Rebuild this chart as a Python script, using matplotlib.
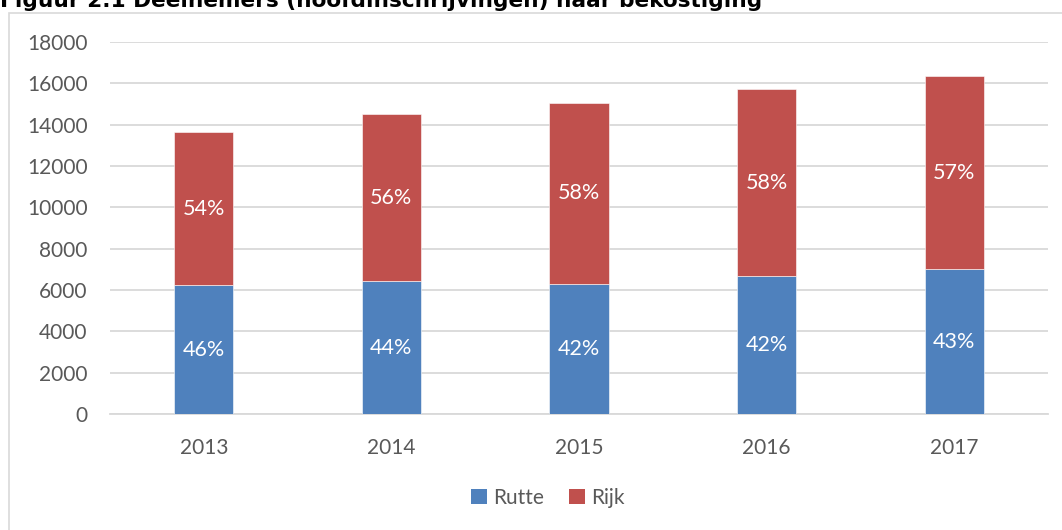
import matplotlib
matplotlib.use("Agg")
import matplotlib.pyplot as plt
from matplotlib.patches import Rectangle, Patch

years = ["2013", "2014", "2015", "2016", "2017"]
rutte = [6240, 6420, 6290, 6680, 7000]
rijk = [7400, 8090, 8760, 9030, 9370]
rutte_pct = ["46%", "44%", "42%", "42%", "43%"]
rijk_pct = ["54%", "56%", "58%", "58%", "57%"]
yticks = [0, 2000, 4000, 6000, 8000, 10000, 12000, 14000, 16000, 18000]

BLUE = "#4F81BD"
RED = "#C0504D"
GRID = "#D9D9D9"
TXT = "#595959"
FONT = "Lato"

W, H = 1062, 530
fig = plt.figure(figsize=(W / 100, H / 100), dpi=100)
fig.patch.set_facecolor("white")

# chart area border (extends beyond the right/bottom edge)
fig.patches.append(Rectangle((9 / W, -0.05), 1.1, 1 - 13 / H + 0.05,
                             transform=fig.transFigure, fill=False,
                             edgecolor=GRID, linewidth=1.2, zorder=0))

# title (clipped at the top edge as in the reference)
fig.text(0.0, 1 - 7 / H, "Figuur 2.1 Deelnemers (hoofdinschrijvingen) naar bekostiging",
         fontsize=15.6, fontweight="bold", family="DejaVu Sans",
         ha="left", va="baseline", color="black")

ax = fig.add_axes([110 / W, 1 - 414 / H, 938 / W, 372 / H])
x = list(range(len(years)))
bw = 0.315
ax.bar(x, rutte, width=bw, color=BLUE, zorder=3, edgecolor="white", linewidth=0.4)
ax.bar(x, rijk, width=bw, bottom=rutte, color=RED, zorder=3, edgecolor="white", linewidth=0.4)

for i in x:
    ax.text(i, rutte[i] / 2, rutte_pct[i], ha="center", va="center",
            color="white", fontsize=15.5, family=FONT, zorder=4)
    ax.text(i, rutte[i] + rijk[i] / 2, rijk_pct[i], ha="center", va="center",
            color="white", fontsize=15.5, family=FONT, zorder=4)

ax.set_xlim(-0.5, len(years) - 0.5)
ax.set_ylim(0, 18000)
ax.set_yticks(yticks)
ax.set_yticklabels([str(v) for v in yticks])
ax.set_xticks(x)
ax.set_xticklabels(years)
ax.yaxis.grid(True, color=GRID, linewidth=1.3, zorder=0)
ax.set_axisbelow(True)
for s in ["top", "right", "left"]:
    ax.spines[s].set_visible(False)
ax.spines["bottom"].set_color(GRID)
ax.spines["bottom"].set_linewidth(1.3)
ax.tick_params(axis="both", length=0, labelsize=15, labelcolor=TXT)
ax.tick_params(axis="y", pad=16)
ax.tick_params(axis="x", pad=17)
for lab in ax.get_xticklabels() + ax.get_yticklabels():
    lab.set_family(FONT)

handles = [Patch(facecolor=BLUE, label="Rutte"), Patch(facecolor=RED, label="Rijk")]
fig.legend(handles=handles, loc="center", bbox_to_anchor=(548 / W, 1 - 498 / H),
           ncol=2, frameon=False, prop={"family": FONT, "size": 15},
           handlelength=0.75, handleheight=0.75, handletextpad=0.3,
           columnspacing=1.2, labelcolor=TXT)

fig.savefig("out.png", dpi=100, facecolor="white")
